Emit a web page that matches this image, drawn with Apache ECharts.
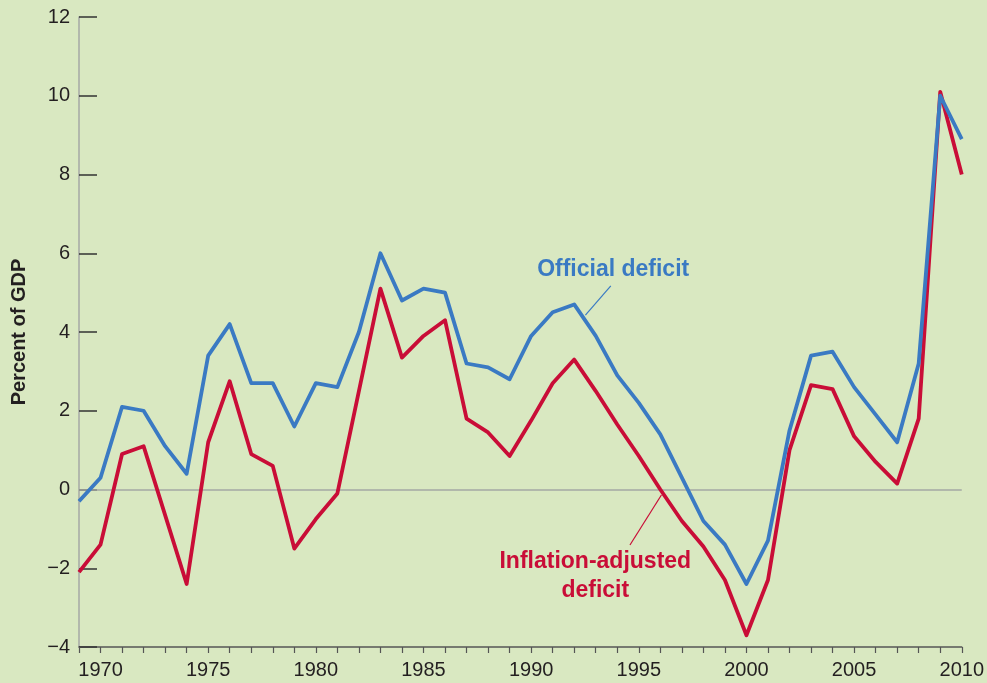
<!DOCTYPE html>
<html>
<head>
<meta charset="utf-8">
<script src="https://cdn.jsdelivr.net/npm/echarts@6/dist/echarts.min.js"></script>
<style>
  html, body { margin: 0; padding: 0; background: #d9e8c1; }
  #chart { width: 987px; height: 683px; }
</style>
</head>
<body>
<div id="chart"></div>
<script>
// Federal budget deficit as a share of GDP, 1969–2010
const years = [1969, 1970, 1971, 1972, 1973, 1974, 1975, 1976, 1977, 1978, 1979,
  1980, 1981, 1982, 1983, 1984, 1985, 1986, 1987, 1988, 1989,
  1990, 1991, 1992, 1993, 1994, 1995, 1996, 1997, 1998, 1999,
  2000, 2001, 2002, 2003, 2004, 2005, 2006, 2007, 2008, 2009, 2010];

const officialDeficit = [-0.3, 0.3, 2.1, 2.0, 1.1, 0.4, 3.4, 4.2, 2.7, 2.7, 1.6,
  2.7, 2.6, 4.0, 6.0, 4.8, 5.1, 5.0, 3.2, 3.1, 2.8,
  3.9, 4.5, 4.7, 3.9, 2.9, 2.2, 1.4, 0.3, -0.8, -1.4,
  -2.4, -1.3, 1.5, 3.4, 3.5, 2.6, 1.9, 1.2, 3.2, 10.0, 8.9];

const inflationAdjusted = [-2.1, -1.4, 0.9, 1.1, -0.65, -2.4, 1.2, 2.75, 0.9, 0.6, -1.5,
  -0.75, -0.1, 2.5, 5.1, 3.35, 3.9, 4.3, 1.8, 1.45, 0.85,
  1.75, 2.7, 3.3, 2.5, 1.65, 0.85, 0.0, -0.8, -1.45, -2.3,
  -3.7, -2.3, 1.0, 2.65, 2.55, 1.35, 0.7, 0.15, 1.8, 10.1, 8.0];

const yTicks = { min: -4, max: 12, step: 2 };
const xTicks = { min: 1969, max: 2010, labelEvery: 5 };

const BLUE = '#3a7ac3';
const RED = '#c90d37';
const FONT = '"Liberation Sans", Arial, Helvetica, sans-serif';

const chart = echarts.init(document.getElementById('chart'));

const pair = (xs, ys) => xs.map((x, i) => [x, ys[i]]);

chart.setOption({
  backgroundColor: '#d9e8c1',
  animation: false,
  grid: { left: 79, right: 24, top: 17, bottom: 36, containLabel: false },
  xAxis: {
    type: 'value',
    min: xTicks.min,
    max: xTicks.max,
    interval: 1,
    axisLine: { show: true, onZero: false, lineStyle: { color: '#555', width: 1.5 } },
    axisTick: { show: true, length: 6, lineStyle: { color: '#555', width: 1.2 } },
    axisLabel: {
      margin: 13,
      fontSize: 20,
      color: '#231f20',
      fontFamily: FONT,
      showMinLabel: true,
      showMaxLabel: true,
      formatter: v => (v % xTicks.labelEvery === 0 ? String(v) : '')
    },
    splitLine: { show: false }
  },
  yAxis: {
    type: 'value',
    min: yTicks.min,
    max: yTicks.max,
    interval: yTicks.step,
    name: 'Percent of GDP',
    nameLocation: 'middle',
    nameRotate: 90,
    nameGap: 50,
    nameTextStyle: { fontSize: 20, fontWeight: 'bold', color: '#231f20', fontFamily: FONT },
    axisLine: { show: true, onZero: false, lineStyle: { color: '#a5a9a5', width: 1.5 } },
    axisTick: { show: true, inside: true, length: 18, lineStyle: { color: '#333', width: 1.5 } },
    axisLabel: {
      margin: 9,
      fontSize: 20,
      color: '#231f20',
      fontFamily: FONT,
      formatter: v => String(v).replace('-', '\u2212')
    },
    splitLine: { show: false }
  },
  series: [
    {
      name: 'Inflation-adjusted deficit',
      type: 'line',
      data: pair(years, inflationAdjusted),
      symbol: 'none',
      lineStyle: { color: RED, width: 3.8, join: 'round' },
      z: 3,
      markLine: {
        silent: true,
        symbol: 'none',
        label: { show: false },
        lineStyle: { color: '#a3a8a3', width: 1.5, type: 'solid' },
        data: [{ yAxis: 0 }],
        z: 1
      }
    },
    {
      name: 'Official deficit',
      type: 'line',
      data: pair(years, officialDeficit),
      symbol: 'none',
      lineStyle: { color: BLUE, width: 3.8, join: 'round' },
      z: 4
    }
  ]
});

// Annotations placed in data coordinates, converted to pixels
const px = p => chart.convertToPixel({ gridIndex: 0 }, p);

const offText = px([1993.81, 5.58]);
const offA = px([1993.7, 5.17]);
const offB = px([1992.52, 4.43]);
const infText1 = px([1992.98, -1.84]);
const infText2 = px([1992.98, -2.58]);
const infA = px([1996.05, -0.14]);
const infB = px([1994.59, -1.41]);

const labelStyle = (color) => ({
  fill: color,
  font: 'bold 23px ' + FONT,
  textAlign: 'center',
  textVerticalAlign: 'middle'
});

chart.setOption({
  graphic: [
    { type: 'text', x: offText[0], y: offText[1], style: Object.assign({ text: 'Official deficit' }, labelStyle(BLUE)), z: 10 },
    { type: 'line', shape: { x1: offA[0], y1: offA[1], x2: offB[0], y2: offB[1] }, style: { stroke: BLUE, lineWidth: 1.2 }, z: 10 },
    { type: 'text', x: infText1[0], y: infText1[1], style: Object.assign({ text: 'Inflation-adjusted' }, labelStyle(RED)), z: 10 },
    { type: 'text', x: infText2[0], y: infText2[1], style: Object.assign({ text: 'deficit' }, labelStyle(RED)), z: 10 },
    { type: 'line', shape: { x1: infA[0], y1: infA[1], x2: infB[0], y2: infB[1] }, style: { stroke: RED, lineWidth: 1.2 }, z: 10 }
  ]
});
</script>
</body>
</html>
